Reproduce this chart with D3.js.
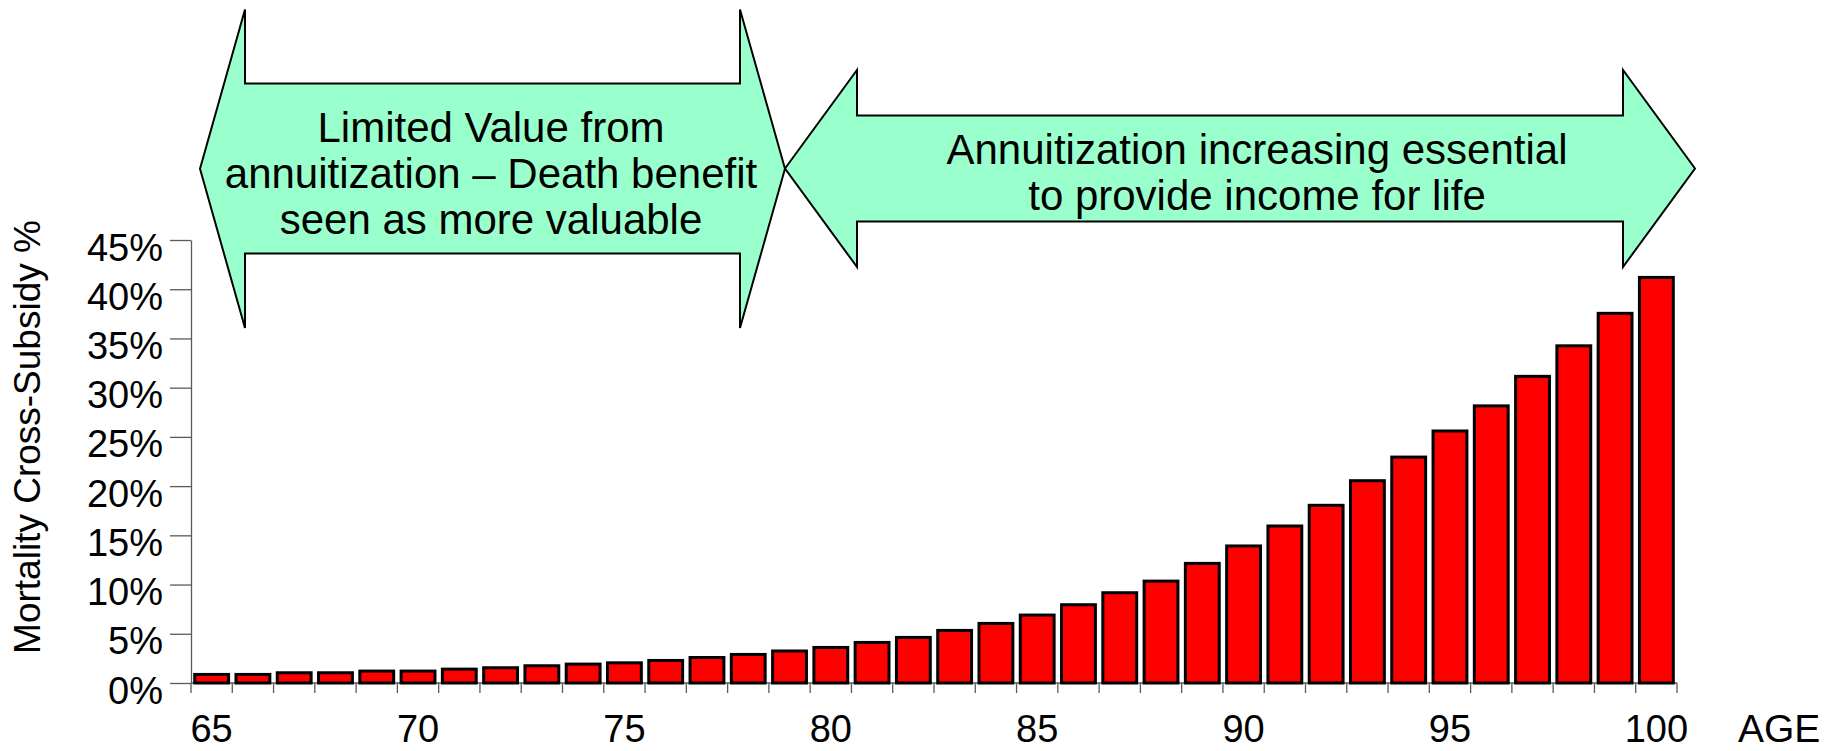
<!DOCTYPE html>
<html>
<head>
<meta charset="utf-8">
<script src="https://cdn.jsdelivr.net/npm/d3@7"></script>
<style>
    body { margin: 0; background: #fff; }
    svg text { font-family: "Liberation Sans", Arial, sans-serif; fill: #000; }
</style>
</head>
<body>
<div id="chart"></div>
<script>

// ages on the x axis
var ages = d3.range(65, 101);

// mortality cross-subsidy, in percent, one per age
var subsidy = [0.87, 0.87, 1.04, 1.04, 1.21, 1.21, 1.41, 1.55, 1.75, 1.92,
    2.05, 2.29, 2.59, 2.9, 3.25, 3.61, 4.12, 4.63, 5.34, 6.05,
    6.9, 7.95, 9.17, 10.35, 12.15, 13.92, 15.95, 18.05, 20.55, 22.95,
    25.6, 28.15, 31.15, 34.25, 37.55, 41.2];

var xTickLabels = [65, 70, 75, 80, 85, 90, 95, 100];
var yTickValues = [0, 5, 10, 15, 20, 25, 30, 35, 40, 45];

var leftArrowText = ["Limited Value from", "annuitization \u2013 Death benefit", "seen as more valuable"];
var rightArrowText = ["Annuitization increasing essential", "to provide income for life"];


var width = 1835,
    height = 751;

var svg = d3.select("#chart").append("svg")
    .attr("width", width)
    .attr("height", height);

// plot area
var plot = { left: 191, right: 1677, top: 240, bottom: 683 };

var x = d3.scaleBand()
    .domain(ages)
    .range([plot.left, plot.right])
    .paddingInner(0.18)
    .paddingOuter(0.09);

var y = d3.scaleLinear()
    .domain([0, 45])
    .range([plot.bottom, plot.top]);

var axisColor = "#5a5a5a";

// y axis
var yAxis = svg.append("g")
    .attr("transform", "translate(" + plot.left + ",0)")
    .call(d3.axisLeft(y)
        .tickValues(yTickValues)
        .tickSize(21)
        .tickSizeOuter(0)
        .tickPadding(7)
        .tickFormat(function(d) { return d + "%"; }));

yAxis.select(".domain").attr("stroke", axisColor).attr("stroke-width", 1.3);
yAxis.selectAll(".tick line").attr("stroke", axisColor).attr("stroke-width", 1.3);
yAxis.selectAll(".tick text")
    .attr("y", 0)
    .attr("dy", "20px")
    .style("font-size", "38px");

// x axis: base line, ticks on band boundaries, labels every 5 years
var step = x.step(),
    gap = step - x.bandwidth();

var bounds = ages.map(function(a) { return x(a) - gap / 2; });
bounds.push(x(ages[ages.length - 1]) + x.bandwidth() + gap / 2);

svg.append("line")
    .attr("x1", plot.left)
    .attr("x2", plot.right)
    .attr("y1", plot.bottom)
    .attr("y2", plot.bottom)
    .attr("stroke", axisColor)
    .attr("stroke-width", 1.5);

svg.selectAll("line.x-tick")
    .data(bounds)
    .enter()
    .append("line")
    .attr("class", "x-tick")
    .attr("x1", function(d) { return d; })
    .attr("x2", function(d) { return d; })
    .attr("y1", plot.bottom)
    .attr("y2", plot.bottom + 10)
    .attr("stroke", axisColor)
    .attr("stroke-width", 1.3);

svg.selectAll("text.x-label")
    .data(xTickLabels)
    .enter()
    .append("text")
    .attr("class", "x-label")
    .attr("x", function(d) { return x(d) + x.bandwidth() / 2; })
    .attr("y", 742)
    .attr("text-anchor", "middle")
    .style("font-size", "38px")
    .text(function(d) { return d; });

svg.append("text")
    .attr("x", 1738)
    .attr("y", 742)
    .style("font-size", "39px")
    .text("AGE");

// y axis title
svg.append("text")
    .attr("transform", "translate(40,437) rotate(-90)")
    .attr("text-anchor", "middle")
    .style("font-size", "37px")
    .text("Mortality Cross-Subsidy %");

// bars
svg.selectAll("rect.bar")
    .data(ages)
    .enter()
    .append("rect")
    .attr("class", "bar")
    .attr("x", function(d) { return x(d); })
    .attr("width", x.bandwidth())
    .attr("y", function(d, i) { return y(subsidy[i]); })
    .attr("height", function(d, i) { return y(0) - y(subsidy[i]); })
    .style("fill", "#ff0000")
    .style("stroke", "#000")
    .style("stroke-width", 3);


// double headed arrows (annotation shapes)
var arrows = [
    { x0: 200, x1: 785, head: 45, top: 9.5, bottom: 328, shaftTop: 83.5, shaftBottom: 253.5,
      lines: leftArrowText, cx: 491, firstBaseline: 142, lineHeight: 46 },
    { x0: 785, x1: 1695, head: 72, top: 70, bottom: 267, shaftTop: 115.5, shaftBottom: 221.5,
      lines: rightArrowText, cx: 1257, firstBaseline: 163.5, lineHeight: 46 }
];

var arrowPath = function(a) {
    var cy = (a.top + a.bottom) / 2;
    var pts = [
        [a.x0, cy],
        [a.x0 + a.head, a.top],
        [a.x0 + a.head, a.shaftTop],
        [a.x1 - a.head, a.shaftTop],
        [a.x1 - a.head, a.top],
        [a.x1, cy],
        [a.x1 - a.head, a.bottom],
        [a.x1 - a.head, a.shaftBottom],
        [a.x0 + a.head, a.shaftBottom],
        [a.x0 + a.head, a.bottom]
    ];
    return d3.line()(pts) + "Z";
};

var arrowGroups = svg.selectAll("g.arrow")
    .data(arrows)
    .enter()
    .append("g")
    .attr("class", "arrow");

arrowGroups.append("path")
    .attr("d", arrowPath)
    .style("fill", "#99ffcc")
    .style("stroke", "#000")
    .style("stroke-width", 2)
    .style("stroke-linejoin", "miter");

arrowGroups.each(function(a) {
    d3.select(this).selectAll("text")
        .data(a.lines)
        .enter()
        .append("text")
        .attr("x", a.cx)
        .attr("y", function(d, i) { return a.firstBaseline + i * a.lineHeight; })
        .attr("text-anchor", "middle")
        .style("font-size", "42px")
        .text(function(d) { return d; });
});

</script>
</body>
</html>
